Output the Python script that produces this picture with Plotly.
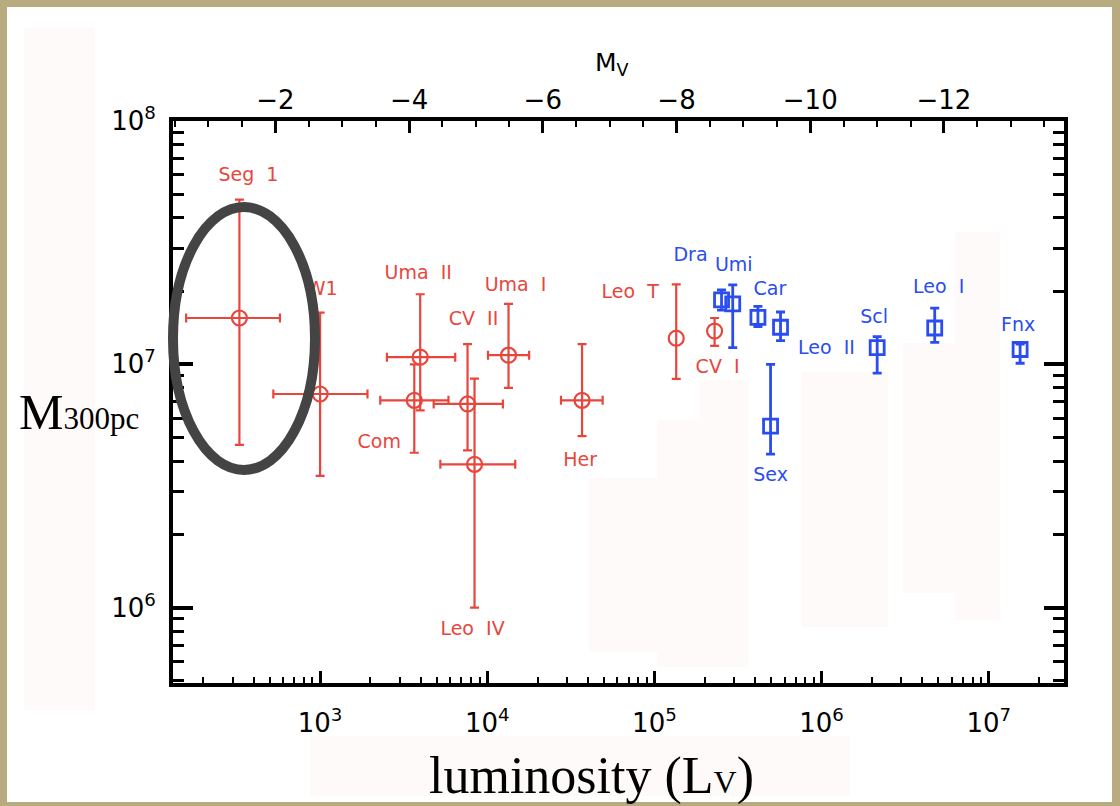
import numpy as np
import plotly.graph_objects as go

# ---- ultra-faint dwarfs (red): V-band luminosity [L_sun] and mass inside 300 pc [M_sun]
uf_names = ["Seg  1", "W1", "Uma  II", "Com", "CV  II", "Leo  IV", "Uma  I", "Her", "Leo  T", "CV  I"]
uf_L = [329, 1000, 3970, 3660, 7620, 8390, 13400, 36900, 1.35e5, 2.29e5]
uf_L_lo = [158, 525, 2510, 2290, 4780, 5240, 10100, 27600, np.nan, np.nan]
uf_L_hi = [575, 1920, 6430, 5860, 12400, 14700, 17800, 49000, np.nan, np.nan]
uf_M = [1.55e7, 7.55e6, 1.07e7, 7.11e6, 6.87e6, 3.88e6, 1.09e7, 7.11e6, 1.28e7, 1.37e7]
uf_M_lo = [4.66e6, 3.48e6, 6.46e6, 4.33e6, 4.43e6, 1.0e6, 8.0e6, 5.07e6, 8.71e6, 1.19e7]
uf_M_hi = [4.75e7, 1.63e7, 1.94e7, 1.0e7, 1.21e7, 8.73e6, 1.77e7, 1.21e7, 2.13e7, 1.55e7]

# ---- classical dwarfs (blue)
cl_names = ["Dra", "Umi", "Car", "Leo  II", "Sex", "Scl", "Leo  I", "Fnx"]
cl_L = [2.52e5, 2.94e5, 4.16e5, 5.68e5, 4.95e5, 2.15e6, 4.75e6, 1.54e7]
cl_M = [1.84e7, 1.77e7, 1.56e7, 1.42e7, 5.57e6, 1.17e7, 1.41e7, 1.15e7]
cl_M_lo = [1.67e7, 1.17e7, 1.43e7, 1.25e7, 4.27e6, 9.2e6, 1.23e7, 1.01e7]
cl_M_hi = [2.02e7, 2.12e7, 1.73e7, 1.64e7, 1.0e7, 1.30e7, 1.70e7, 1.21e7]

# ---- axis ticks
x_tickvals = [1e3, 1e4, 1e5, 1e6, 1e7]
x_ticktext = ["10<sup>3</sup>", "10<sup>4</sup>", "10<sup>5</sup>", "10<sup>6</sup>", "10<sup>7</sup>"]
y_tickvals = [1e6, 1e7, 1e8]
y_ticktext = ["10<sup>6</sup>", "10<sup>7</sup>", "10<sup>8</sup>"]
mv_ticks = [-2, -4, -6, -8, -10, -12]
mv_ticktext = ["\u22122", "\u22124", "\u22126", "\u22128", "\u221210", "\u221212"]
M_SUN_V = 4.83

# label offsets from each point, in screen pixels (dx right, dy down)
uf_label_off = [(9, -142), (2, -104), (-2, -83), (-35, 43), (6, -84), (-2, 166),
                (7, -69), (-2, 61), (-46, -45), (3, 37)]
cl_label_off = [(-31, -44), (1, -38), (12, -27), (46, 22), (0, 50), (-3, -29),
                (4, -40), (-2, -23)]

RED = "#e8463c"
BLUE = "#2a4df0"
XRANGE = [2.12, 7.45]
YRANGE = [5.69, 8.0]

# plot-area geometry in pixels
W, H = 1120, 806
ML, MR, MT, MB = 173, 56, 121, 123
PW, PH = W - ML - MR, H - MT - MB
PX_PER_DEX_X = PW / (XRANGE[1] - XRANGE[0])
PX_PER_DEX_Y = PH / (YRANGE[1] - YRANGE[0])


def px(xp):
    return (xp - ML) / PW


def py(yp):
    return (H - MB - yp) / PH


def mv_to_L(mv):
    return 10 ** ((M_SUN_V - mv) / 2.5)


def label_positions(Ls, Ms, offs):
    """Shift each label from its point by a fixed number of screen pixels."""
    lx = [L * 10 ** (dx / PX_PER_DEX_X) for L, (dx, dy) in zip(Ls, offs)]
    ly = [M * 10 ** (-dy / PX_PER_DEX_Y) for M, (dx, dy) in zip(Ms, offs)]
    return lx, ly


uf_L_a = np.array(uf_L, float)
uf_M_a = np.array(uf_M, float)
cl_M_a = np.array(cl_M, float)

fig = go.Figure()

fig.add_trace(go.Scatter(
    x=uf_L, y=uf_M, mode="markers",
    marker=dict(symbol="circle-open", size=15, color=RED, line=dict(width=2.2, color=RED)),
    error_x=dict(type="data", symmetric=False,
                 array=np.array(uf_L_hi) - uf_L_a, arrayminus=uf_L_a - np.array(uf_L_lo),
                 color=RED, thickness=2.2, width=4.5),
    error_y=dict(type="data", symmetric=False,
                 array=np.array(uf_M_hi) - uf_M_a, arrayminus=uf_M_a - np.array(uf_M_lo),
                 color=RED, thickness=2.2, width=4.5),
    showlegend=False, hoverinfo="skip",
))

fig.add_trace(go.Scatter(
    x=cl_L, y=cl_M, mode="markers",
    marker=dict(symbol="square-open", size=14, color=BLUE, line=dict(width=2.8, color=BLUE)),
    error_y=dict(type="data", symmetric=False,
                 array=np.array(cl_M_hi) - cl_M_a, arrayminus=cl_M_a - np.array(cl_M_lo),
                 color=BLUE, thickness=2.8, width=4.5),
    showlegend=False, hoverinfo="skip",
))

# galaxy names
for names, Ls, Ms, offs, col in [(uf_names, uf_L, uf_M, uf_label_off, RED),
                                 (cl_names, cl_L, cl_M, cl_label_off, BLUE)]:
    lx, ly = label_positions(Ls, Ms, offs)
    fig.add_trace(go.Scatter(
        x=lx, y=ly, mode="text", text=names, textposition="middle center",
        textfont=dict(family="DejaVu Sans", size=19, color=col),
        showlegend=False, hoverinfo="skip", cliponaxis=False,
    ))

# carrier trace for the absolute-magnitude axis on top
fig.add_trace(go.Scatter(x=cl_L, y=cl_M, mode="none", xaxis="x2",
                         showlegend=False, hoverinfo="skip"))

serif = "Liberation Serif"
annotations = [
    dict(xref="paper", yref="paper", x=px(17), y=py(412), xanchor="left", yanchor="middle",
         text="M<span style='font-size:31px'>300pc</span>", showarrow=False,
         font=dict(family=serif, size=50, color="black")),
    dict(xref="paper", yref="paper", x=px(591), y=py(776), xanchor="center", yanchor="middle",
         text="luminosity (L<span style='font-size:32px'>V</span>)", showarrow=False,
         font=dict(family=serif, size=52, color="black")),
    dict(xref="paper", yref="paper", x=px(612), y=py(64), xanchor="center", yanchor="middle",
         text="M<sub>V</sub>", showarrow=False,
         font=dict(family="DejaVu Sans", size=25, color="black")),
]

# page: tan frame, white slide, faint pink patches, highlight ellipse
shapes = [
    dict(type="rect", xref="paper", yref="paper", x0=px(7), x1=px(1112), y0=py(802), y1=py(7),
         fillcolor="white", line=dict(width=0), layer="below"),
]
pink_patches = [(24, 28, 95, 710), (310, 736, 850, 796), (589, 478, 748, 652),
                (657, 420, 748, 667), (700, 380, 748, 420), (802, 372, 888, 627),
                (903, 343, 1000, 593), (955, 232, 1000, 620)]
for x0, y0, x1, y1 in pink_patches:
    shapes.append(dict(type="rect", xref="paper", yref="paper", x0=px(x0), x1=px(x1),
                       y0=py(y1), y1=py(y0), fillcolor="#fffafa", line=dict(width=0),
                       layer="below"))
shapes.append(dict(type="circle", xref="paper", yref="paper", x0=px(173), x1=px(315),
                   y0=py(470), y1=py(207), line=dict(color="#444444", width=10),
                   fillcolor="rgba(0,0,0,0)", layer="above"))

tickfont = dict(family="DejaVu Sans", size=26, color="black")
mv_all = np.arange(-0.5, -14.0, -0.5)
mv_minor = [mv_to_L(m) for m in mv_all if m not in mv_ticks]

fig.update_layout(
    width=W, height=H,
    margin=dict(l=ML, r=MR, t=MT, b=MB),
    paper_bgcolor="#b9ab80",
    plot_bgcolor="rgba(0,0,0,0)",
    showlegend=False,
    annotations=annotations,
    shapes=shapes,
    xaxis=dict(type="log", range=XRANGE, showgrid=False, zeroline=False,
               showline=True, linecolor="black", linewidth=4, mirror=True,
               tickmode="array", tickvals=x_tickvals, ticktext=x_ticktext,
               ticks="inside", ticklen=12, tickwidth=3, tickcolor="black",
               minor=dict(ticks="inside", ticklen=6, tickwidth=2, tickcolor="black", dtick="D1"),
               tickfont=tickfont, ticklabelstandoff=14),
    xaxis2=dict(type="log", range=XRANGE, overlaying="x", side="top", anchor="y",
                showgrid=False, zeroline=False, showline=False,
                tickmode="array", tickvals=[mv_to_L(m) for m in mv_ticks], ticktext=mv_ticktext,
                ticks="inside", ticklen=12, tickwidth=3, tickcolor="black",
                minor=dict(tickmode="array", tickvals=mv_minor, ticks="inside", ticklen=6,
                           tickwidth=2, tickcolor="black"),
                tickfont=tickfont, ticklabelstandoff=6),
    yaxis=dict(type="log", range=YRANGE, showgrid=False, zeroline=False,
               showline=True, linecolor="black", linewidth=4, mirror="ticks",
               tickmode="array", tickvals=y_tickvals, ticktext=y_ticktext,
               ticks="inside", ticklen=20, tickwidth=4, tickcolor="black",
               minor=dict(ticks="inside", ticklen=11, tickwidth=3, tickcolor="black", dtick="D1"),
               tickfont=tickfont, ticklabelstandoff=8),
)

fig.write_html("out.html")
